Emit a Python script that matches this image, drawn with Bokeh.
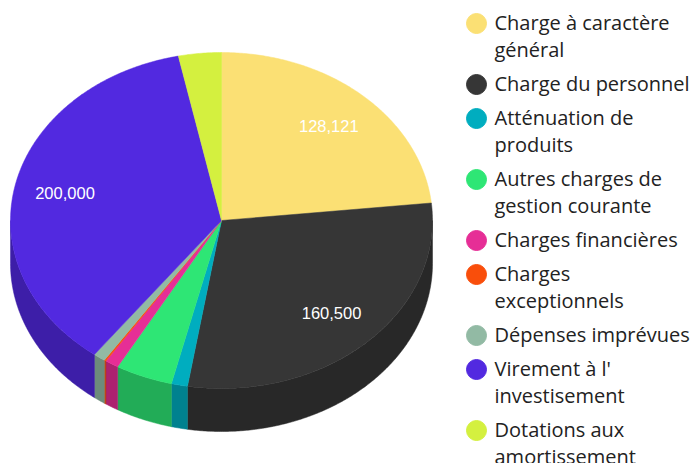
import numpy as np
from bokeh.plotting import figure
from bokeh.embed import file_html
from bokeh.resources import INLINE
from bokeh.core.properties import value

categories = ["Charge à caractère\ngénéral", "Charge du personnel", "Atténuation de\nproduits",
              "Autres charges de\ngestion courante", "Charges financières", "Charges\nexceptionnels",
              "Dépenses imprévues", "Virement à l'\ninvestisement", "Dotations aux\namortissement"]
values = [128121, 160500, 6800, 24000, 5700, 800, 5000, 200000, 18000]
colors = ["#FBE074", "#363636", "#00ADBF", "#2EE675", "#E62E96", "#F94E0B", "#92BAA4", "#5229E0", "#D4F03F"]
labelled = [True, True, False, False, False, False, False, True, False]

CX, CY, RX, RY, DEPTH = 221, 220, 211, 168, 43
SHADE = 0.75
FONT = "Open Sans"

p = figure(width=691, height=463, x_range=(0, 691), y_range=(463, 0), min_border=0,
           toolbar_location=None, output_backend="svg", background_fill_color="white")
p.axis.visible = False
p.grid.visible = False
p.outline_line_color = None


def arc(a0, a1, dy=0.0):
    t = np.radians(np.linspace(a0, a1, max(int(a1 - a0) * 2, 2) + 1))
    return CX + RX * np.sin(t), CY - RY * np.cos(t) + dy


def darker(c):
    r, g, b = (int(c[i:i + 2], 16) for i in (1, 3, 5))
    return "#%02x%02x%02x" % (int(r * SHADE), int(g * SHADE), int(b * SHADE))


edges = np.concatenate([[0], np.cumsum(values)]) / sum(values) * 360

# side wall (front half only)
for i, c in enumerate(colors):
    a0, a1 = max(edges[i], 90), min(edges[i + 1], 270)
    if a1 <= a0:
        continue
    x0, y0 = arc(a0, a1)
    x1, y1 = arc(a0, a1, DEPTH)
    d = darker(c)
    p.patch(np.r_[x0, x1[::-1]], np.r_[y0, y1[::-1]], fill_color=d, line_color=d, line_width=0.5)

# top face
for i, c in enumerate(colors):
    x, y = arc(edges[i], edges[i + 1])
    p.patch(np.r_[CX, x], np.r_[CY, y], fill_color=c, line_color=c, line_width=0.5)

# value labels
for i, v in enumerate(values):
    if labelled[i]:
        m = np.radians((edges[i] + edges[i + 1]) / 2)
        p.text([CX + 0.76 * RX * np.sin(m)], [CY - 0.76 * RY * np.cos(m)], text=[f"{v:,}"],
               text_color="white", text_font=value("Liberation Sans"), text_font_size="16.5px",
               text_align="center", text_baseline="middle")

# legend
y = 23
for name, c in zip(categories, colors):
    p.scatter([476], [y], size=20, color=c)
    n = name.count("\n")
    p.text([494], [y], text=[name], text_font=value(FONT), text_font_size="20px",
           text_color="#222222", text_align="left", text_baseline="top", y_offset=-15,
           text_line_height=1.0)
    y += 34 + 27 * n

open("out.html", "w").write(file_html(p, INLINE))
